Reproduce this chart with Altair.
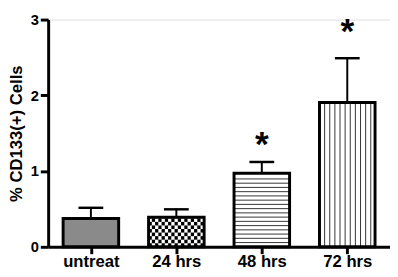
import altair as alt
import numpy as np
import pandas as pd

# ---- data ----
categories = ["untreat", "24 hrs", "48 hrs", "72 hrs"]
means = [0.375, 0.39, 0.97, 1.905]
sems = [0.14, 0.105, 0.15, 0.585]
star_cats = ["48 hrs", "72 hrs"]
star_y = [1.45, 2.93]

FONT = "Liberation Sans"
HALF = 0.325  # half bar width in category units

idx = list(range(len(categories)))
df = pd.DataFrame({"cat": categories, "i": idx, "mean": means, "sem": sems})
df["top"] = df["mean"] + df["sem"]
df["x0"] = df["i"] + 0.5 - HALF
df["x1"] = df["i"] + 0.5 + HALF
df["xc"] = df["i"] + 0.5
df["c0"] = df["xc"] - 0.145
df["c1"] = df["xc"] + 0.145
df["fill"] = ["#8a8a8a", "white", "white", "white"]

# ---- hatch patterns (styling only) ----
# horizontal lines (48 hrs)
r48 = df.iloc[2]
hl = pd.DataFrame({"y": np.arange(0.056, r48["mean"] - 0.02, 0.056)})
hl["x0"] = r48["x0"]
hl["x1"] = r48["x1"]
# vertical lines (72 hrs)
r72 = df.iloc[3]
vl = pd.DataFrame({"x": np.arange(r72["x0"] + 0.06, r72["x1"] - 0.02, 0.06)})
vl["y1"] = r72["mean"]
# checkerboard (24 hrs)
r24 = df.iloc[1]
cw, ch = 0.038, 0.047
cells = []
ncol = int(np.ceil((r24["x1"] - r24["x0"]) / cw))
nrow = int(np.ceil(r24["mean"] / ch))
for r in range(nrow):
    for c in range(ncol):
        if (r + c) % 2 == 0:
            xa = r24["x0"] + c * cw
            xb = min(xa + cw, r24["x1"])
            ya = r * ch
            yb = min(ya + ch, r24["mean"])
            cells.append({"xa": xa, "xb": xb, "ya": ya, "yb": yb})
ck = pd.DataFrame(cells)

label_expr = "[" + ",".join("'%s'" % c for c in categories) + "][floor(datum.value)]"

xscale = alt.Scale(domain=[0, len(categories)], nice=False, zero=False)
yscale = alt.Scale(domain=[0, 3], nice=False)

xaxis = alt.Axis(values=[i + 0.5 for i in idx], labelExpr=label_expr, title=None,
                 grid=False, domainWidth=3, domainColor="black", tickWidth=3,
                 tickColor="black", tickSize=7, labelFont=FONT, labelFontSize=17,
                 labelFontWeight="bold", labelColor="black", labelPadding=0,
                 labelFlush=False)
yaxis = alt.Axis(values=[0, 1, 2, 3], format="d", title="% CD133(+) Cells", grid=False,
                 domainWidth=3, domainColor="black", tickWidth=3, tickColor="black",
                 tickSize=8, labelFont=FONT, labelFontSize=15, labelFontWeight="bold",
                 labelColor="black", labelPadding=2, titleFont=FONT, titleFontSize=17,
                 titleFontWeight="bold", titleColor="black", titlePadding=5,
                 labelFlush=False)

base = alt.Chart(df)

fill = base.mark_rect(strokeWidth=0).encode(
    x=alt.X("x0:Q", scale=xscale, axis=xaxis),
    x2="x1:Q",
    y=alt.Y("mean:Q", scale=yscale, axis=yaxis),
    y2=alt.datum(0),
    fill=alt.Fill("fill:N", scale=None),
)

hlines = alt.Chart(hl).mark_rule(color="#333333", strokeWidth=1).encode(
    x=alt.X("x0:Q", scale=xscale), x2="x1:Q", y=alt.Y("y:Q", scale=yscale)
)
vlines = alt.Chart(vl).mark_rule(color="#333333", strokeWidth=1).encode(
    x=alt.X("x:Q", scale=xscale), y=alt.Y("y1:Q", scale=yscale), y2=alt.datum(0)
)
checker = alt.Chart(ck).mark_rect(color="black", strokeWidth=0).encode(
    x=alt.X("xa:Q", scale=xscale), x2="xb:Q",
    y=alt.Y("ya:Q", scale=yscale), y2="yb:Q"
)

stroke = base.mark_rect(fill=None, stroke="black", strokeWidth=3).encode(
    x=alt.X("x0:Q", scale=xscale), x2="x1:Q",
    y=alt.Y("mean:Q", scale=yscale), y2=alt.datum(0),
)

err = base.mark_rule(color="black", strokeWidth=2).encode(
    x=alt.X("xc:Q", scale=xscale), y=alt.Y("mean:Q", scale=yscale), y2="top:Q"
)
caps = base.mark_rule(color="black", strokeWidth=2.5).encode(
    x=alt.X("c0:Q", scale=xscale), x2="c1:Q", y=alt.Y("top:Q", scale=yscale)
)

stars_df = pd.DataFrame({"cat": star_cats, "y": star_y})
stars_df["xc"] = [categories.index(c) + 0.5 for c in star_cats]
stars = alt.Chart(stars_df).mark_text(
    text="*", font=FONT, fontSize=36, fontWeight="bold", color="black",
    baseline="middle", dy=8
).encode(x=alt.X("xc:Q", scale=xscale), y=alt.Y("y:Q", scale=yscale))

chart = alt.layer(fill, hlines, vlines, checker, stroke, err, caps, stars).properties(
    width=349, height=232,
    autosize=alt.AutoSizeParams(type="none"),
    padding={"left": 41, "top": 9, "right": 0, "bottom": 28},
).configure_view(stroke=None).configure(background="white")

chart.save("out.html", embed_options={"renderer": "svg", "actions": False})
